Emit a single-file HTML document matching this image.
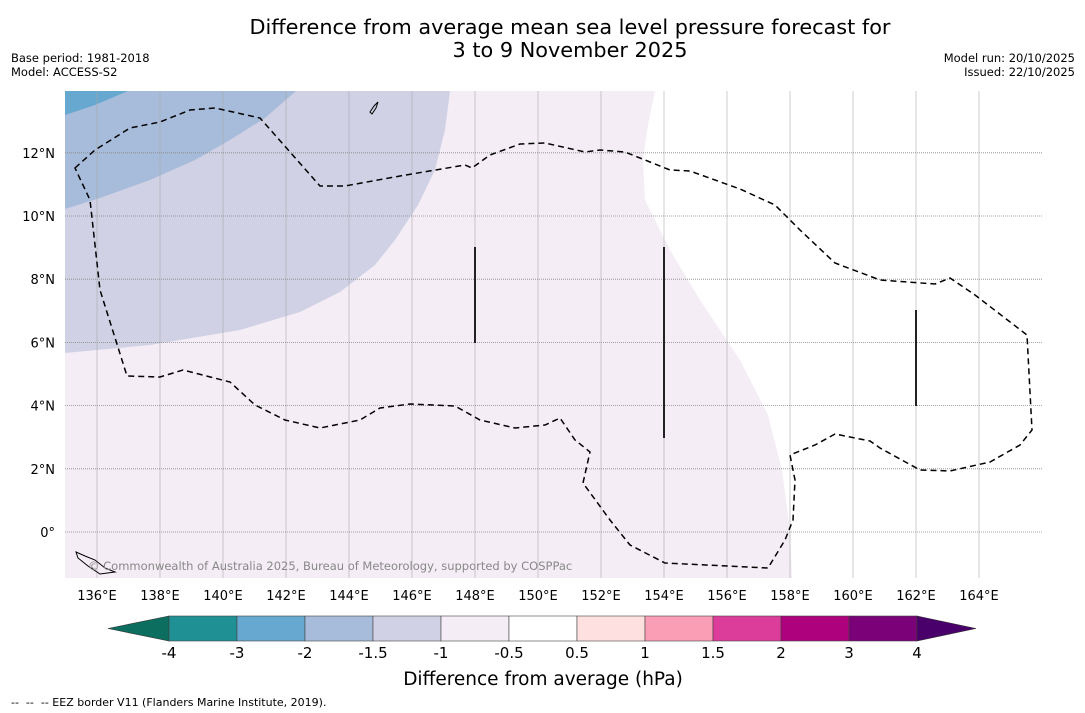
<!DOCTYPE html>
<html><head><meta charset="utf-8"><style>
body{margin:0;background:#fff;}
svg{display:block;font-family:"DejaVu Sans","Liberation Sans",sans-serif;}
</style></head><body>
<svg id="chart" width="1085" height="713" viewBox="0 0 1085 713">
<rect width="1085" height="713" fill="#fff"/>
<text x="570" y="34" font-size="20.8" text-anchor="middle">Difference from average mean sea level pressure forecast for</text>
<text x="570" y="57" font-size="20.8" text-anchor="middle">3 to 9 November 2025</text>
<text x="11" y="62" font-size="11.5">Base period: 1981-2018</text>
<text x="11" y="76" font-size="11.5">Model: ACCESS-S2</text>
<text x="1075" y="62" font-size="11.5" text-anchor="end">Model run: 20/10/2025</text>
<text x="1075" y="76" font-size="11.5" text-anchor="end">Issued: 22/10/2025</text>
<defs><clipPath id="mapclip"><rect x="65" y="91" width="977" height="487"/></clipPath></defs>
<g clip-path="url(#mapclip)">
<rect x="65" y="91" width="977" height="487" fill="#fff"/>
<path fill="#f4edf5" d="M65,91 L655,91 L648,125 L643,160 L645,200 L670,250 L700,300 L740,360 L768,415 L782,470 L790,530 L792,578 L65,578Z"/>
<path fill="#d0d1e5" d="M65,91 L450,91 L445,130 L435,170 L418,205 L395,240 L375,265 L340,292 L300,312 L240,330 L150,345 L65,353Z"/>
<path fill="#a7bcda" d="M65,91 L296,91 L265,118 L230,140 L195,160 L150,180 L100,198 L65,209Z"/>
<path fill="#66a8cf" d="M65,91 L128,91 L95,105 L65,115Z"/>
<g id="grid"></g>
<path fill="none" stroke="#000" stroke-width="1.5" stroke-dasharray="6,4" d="M75,168 L95,150 L130,128 L160,122 L190,110 L215,108 L260,118 L320,186 L345,186 L400,176 L465,165 L472,168 L490,155 L520,144 L545,143 L585,152 L600,150 L625,152 L650,162 L670,170 L690,171 L740,189 L775,205 L800,230 L835,263 L880,280 L935,284 L950,278 L975,295 L1027,335 L1032,430 L1020,445 L990,462 L950,471 L920,470 L880,448 L870,441 L835,434 L815,445 L790,455 L795,480 L793,520 L785,540 L768,568 L665,563 L630,545 L610,520 L583,483 L590,452 L575,440 L560,418 L545,425 L515,428 L480,420 L455,406 L410,404 L380,408 L360,420 L320,428 L285,420 L255,405 L230,382 L183,370 L160,377 L127,376 L100,290 L90,200 Z"/>
<line x1="475" y1="247" x2="475" y2="343" stroke="#222" stroke-width="2"/>
<line x1="664" y1="247" x2="664" y2="438" stroke="#222" stroke-width="2"/>
<line x1="916" y1="310" x2="916" y2="406" stroke="#222" stroke-width="2"/>
<path d="M370,112 L374,106 L378,102 L376,108 L372,114Z" fill="none" stroke="#000"/>
<path d="M76,552 L85,556 L95,560 L105,568 L115,572 L100,574 L88,566 L78,558Z" fill="none" stroke="#000"/>
<text x="88" y="570" font-size="11.5" fill="#888">© Commonwealth of Australia 2025, Bureau of Meteorology, supported by COSPPac</text>
</g>
<g id="ticks"></g>
<g id="cbar"></g>
<text x="543" y="685" font-size="18.5" text-anchor="middle">Difference from average (hPa)</text>
<text x="11" y="706" font-size="11" xml:space="preserve" style="white-space:pre">--  --  -- EEZ border V11 (Flanders Marine Institute, 2019).</text>
</svg>
<script>
const lonTicks=[136,138,140,142,144,146,148,150,152,154,156,158,160,162,164];
const latTicks=[0,2,4,6,8,10,12];
const cbarLevels=["-4","-3","-2","-1.5","-1","-0.5","0.5","1","1.5","2","3","4"];
const cbarColors=["#1f9094","#66a8cf","#a7bcda","#d0d1e5","#f4edf5","#ffffff","#fee0e0","#f99eb4","#dc3d9b","#ae017e","#7a0177"];
const lowColor="#0b6e5f", highColor="#4a006a";
const NS="http://www.w3.org/2000/svg";
const xLon=l=>97+(l-136)*31.5;
const yLat=l=>532-l*31.6;
const grid=document.getElementById('grid'),ticks=document.getElementById('ticks'),cbar=document.getElementById('cbar');
function mk(tag,attrs,parent){const e=document.createElementNS(NS,tag);for(const k in attrs)e.setAttribute(k,attrs[k]);parent.appendChild(e);return e;}
lonTicks.forEach(l=>{
 const g=mk('line',{x1:xLon(l),x2:xLon(l),y1:91,y2:578,stroke:'#aaa','stroke-width':0.6},grid);
 
 
 const t=mk('text',{x:xLon(l),y:600,'font-size':13,'text-anchor':'middle'},ticks);
 t.textContent=l+'°E';
 
 
});
latTicks.forEach(l=>{
 const g=mk('line',{x1:65,x2:1042,y1:yLat(l),y2:yLat(l),stroke:'#888','stroke-width':0.8,'stroke-dasharray':'1,1'},grid);
 
 
 const t=mk('text',{x:55,y:yLat(l)+5,'font-size':13,'text-anchor':'end'},ticks);
 t.textContent=l===0?'0°':l+'°N';
 
 
});
const cx0=169,cw=68,cy=616,ch=25;
const lt=mk('path',{d:`M${cx0},${cy} L108,${cy+ch/2} L${cx0},${cy+ch}Z`,fill:lowColor,stroke:'#333','stroke-width':0.6},cbar);


cbarColors.forEach((c,i)=>{
 const r=mk('rect',{x:cx0+i*cw,y:cy,width:cw,height:ch,fill:c,stroke:'#444','stroke-width':0.6},cbar);
 
 
});
const xe=cx0+cbarColors.length*cw;
const rt=mk('path',{d:`M${xe},${cy} L976,${cy+ch/2} L${xe},${cy+ch}Z`,fill:highColor,stroke:'#333','stroke-width':0.6},cbar);


cbarLevels.forEach((v,i)=>{
 const t=mk('text',{x:cx0+i*cw,y:658,'font-size':15,'text-anchor':'middle'},cbar);
 t.textContent=v;
 
 
});
</script>
</body></html>
